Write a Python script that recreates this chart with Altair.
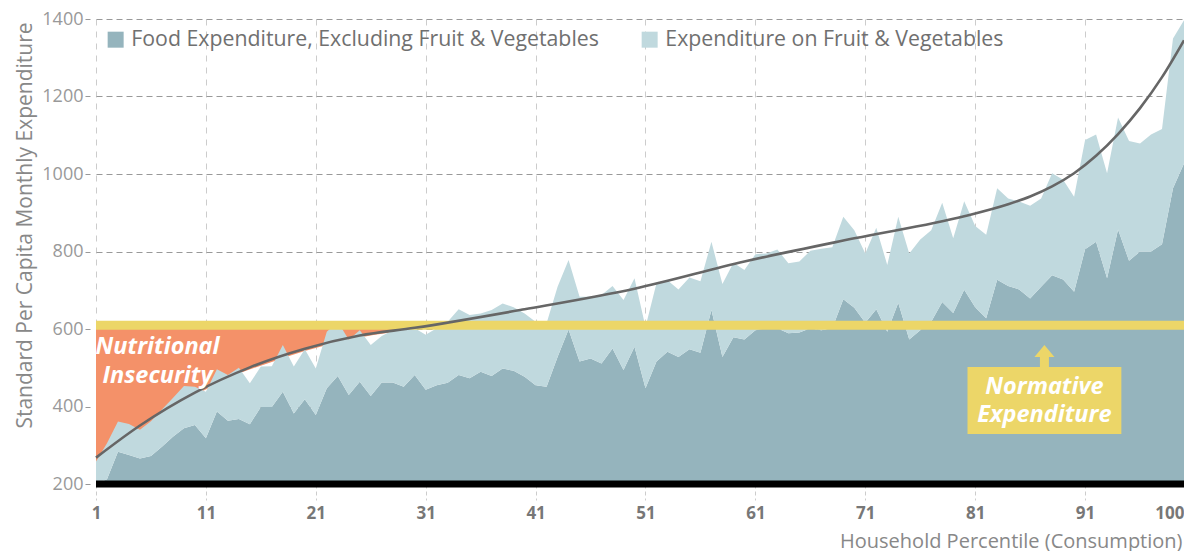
import altair as alt
import pandas as pd

# ---------------- data ----------------
percentile = list(range(1, 101))

food_excl_fv = [
    200, 212, 283, 275, 266, 272, 296, 322, 344, 352,
    318, 387, 363, 368, 354, 399, 399, 438, 382, 419,
    378, 447, 479, 430, 464, 427, 462, 462, 451, 481,
    443, 455, 461, 481, 473, 490, 479, 498, 492, 477,
    455, 451, 528, 599, 516, 524, 511, 550, 494, 554,
    447, 516, 541, 528, 548, 539, 649, 528, 579, 573,
    597, 602, 602, 589, 591, 602, 597, 602, 677, 655,
    616, 651, 593, 668, 573, 597, 619, 670, 641, 701,
    656, 628, 727, 711, 702, 679, 709, 739, 728, 696,
    806, 825, 731, 857, 776, 800, 800, 819, 963, 1027,
]

total_food = [
    258, 305, 361, 355, 340, 362, 392, 422, 453, 451,
    438, 496, 481, 500, 460, 503, 504, 559, 503, 548,
    498, 593, 619, 572, 597, 559, 582, 597, 598, 602,
    585, 602, 619, 651, 636, 640, 649, 666, 656, 640,
    619, 615, 709, 778, 683, 683, 688, 711, 675, 731,
    605, 718, 726, 702, 733, 723, 825, 716, 771, 752,
    793, 795, 805, 770, 774, 802, 807, 811, 890, 855,
    795, 861, 765, 890, 795, 831, 855, 926, 834, 930,
    866, 843, 963, 937, 929, 918, 937, 1002, 985, 941,
    1088, 1102, 1002, 1146, 1085, 1079, 1102, 1116, 1350, 1397,
]

# fitted trend line (read at a few percentiles)
trend_x = [1, 5, 10, 15, 20, 25, 30, 40, 50, 60, 70, 80, 84, 86, 88, 90, 92, 94, 96, 98, 100]
trend_y = [268, 351, 436, 501, 549, 583, 603, 651, 704, 774, 834, 891, 922, 942, 968, 1002, 1047, 1103, 1170, 1250, 1345]

# lower edge of the "nutritional insecurity" zone
insec_x = [1, 3, 5, 8, 11, 14, 17, 20, 25, 30, 32]
insec_y = [252, 300, 338, 400, 444, 485, 515, 543, 578, 600, 610]

NORMATIVE = 610
Y_FLOOR = 200

FOOD_LABEL = "Food Expenditure, Excluding Fruit & Vegetables"
FV_LABEL = "Expenditure on Fruit & Vegetables"
x_ticks = [1, 11, 21, 31, 41, 51, 61, 71, 81, 91, 100]
y_ticks = [200, 400, 600, 800, 1000, 1200, 1400]

# ---------------- styling ----------------
DARK = "#95b4bd"
LIGHT = "#c0d9de"
ORANGE = "#f49169"
YELLOW = "#ecd668"
FONT = "Open Sans"

df = pd.DataFrame({"pct": percentile, "food": food_excl_fv, "total": total_food})
trend = pd.DataFrame({"pct": trend_x, "v": trend_y})
insec = pd.DataFrame({"pct": insec_x, "v": insec_y})
one = pd.DataFrame({"k": [0]})  # single row for annotation marks

xscale = alt.Scale(domain=[1, 100], nice=False, zero=False)
yscale = alt.Scale(domain=[200, 1400], nice=False, zero=False)

xaxis = alt.Axis(
    values=x_ticks, title="Household Percentile (Consumption)", format="d",
    grid=True, gridDash=[6, 6], gridColor="#cccccc",
    domain=False, tickSize=16, tickDash=[4, 3], tickColor="#cccccc",
    labelPadding=5, labelFontSize=17, labelFontWeight="bold", labelColor="#777777",
    labelFlush=False,
    labelAlign=alt.condition("datum.value == 100", alt.value("right"), alt.value("center")),
    titleFontSize=20, titleFontWeight="normal", titleColor="#888888",
    titleX=1086, titleY=57, titleAlign="right", titleBaseline="middle",
)
yaxis = alt.Axis(
    values=y_ticks, title="Standard Per Capita Monthly Expenditure", format="d",
    grid=True, gridDash=[6, 4], gridColor="#999999",
    domain=False, offset=6, tickSize=5, tickColor="#999999",
    labelPadding=2, labelFontSize=18, labelColor="#999999",
    titleFontSize=21, titleFontWeight="normal", titleColor="#888888",
    titleX=-65, titleY=206, titleAngle=270, titleAlign="center", titleBaseline="middle",
)


def X(field="pct"):
    return alt.X(f"{field}:Q", scale=xscale, axis=xaxis)


def Y(field):
    return alt.Y(f"{field}:Q", scale=yscale, axis=yaxis)


color_scale = alt.Scale(domain=[FOOD_LABEL, FV_LABEL], range=[DARK, LIGHT])
legend = alt.Legend(
    title=None, orient="none", legendX=9, legendY=10, direction="horizontal",
    symbolType="square", symbolSize=256, symbolStrokeWidth=0, symbolOpacity=1,
    labelFontSize=21.3, labelColor="#707070", labelFont=FONT, labelLimit=700,
    labelOffset=5, columnPadding=40, padding=0,
)

orange = alt.Chart(insec).mark_area(color=ORANGE, interpolate="monotone").encode(
    x=X(), y=Y("v"), y2=alt.datum(NORMATIVE)
)

dark = alt.Chart(df).transform_calculate(series=f"'{FOOD_LABEL}'").mark_area(
    interpolate="linear", opacity=1
).encode(
    x=X(), y=Y("food"), y2=alt.datum(Y_FLOOR),
    color=alt.Color("series:N", scale=color_scale, legend=legend),
)
light = alt.Chart(df).transform_calculate(series=f"'{FV_LABEL}'").mark_area(
    interpolate="linear", opacity=1
).encode(
    x=X(), y=Y("total"), y2=alt.Y2("food:Q"),
    color=alt.Color("series:N", scale=color_scale, legend=legend),
)

norm_rule = alt.Chart(one).mark_rule(color=YELLOW, strokeWidth=9).encode(
    y=alt.datum(NORMATIVE)
)

trend_line = alt.Chart(trend).mark_line(
    color="#666666", strokeWidth=2.6, interpolate="monotone"
).encode(x=X(), y=Y("v"))

base_rule = alt.Chart(one).mark_rule(color="black", strokeWidth=7).encode(
    y=alt.datum(Y_FLOOR)
)

# annotation: Normative Expenditure box with arrow
box = alt.Chart(one).mark_rect(color=YELLOW).encode(
    x=alt.datum(80.3), x2=alt.datum(94.3), y=alt.datum(329), y2=alt.datum(502)
)
shaft = alt.Chart(one).mark_rule(color=YELLOW, strokeWidth=9).encode(
    x=alt.datum(87.3), y=alt.datum(500), y2=alt.datum(530)
)
head = alt.Chart(one).mark_point(
    shape="M-1,0.6L0,-0.6L1,0.6Z", filled=True, color=YELLOW, opacity=1, size=400, strokeWidth=0
).encode(x=alt.datum(87.3), y=alt.datum(543))

norm_text = alt.Chart(one).mark_text(
    text="Normative\nExpenditure", lineBreak="\n", lineHeight=28,
    font=FONT, fontSize=23.5, fontWeight="bold", fontStyle="italic",
    color="white", align="center", baseline="middle",
).encode(x=alt.datum(87.3), y=alt.datum(450))

insec_text = alt.Chart(one).mark_text(
    text="Nutritional\nInsecurity", lineBreak="\n", lineHeight=29,
    font=FONT, fontSize=23.5, fontWeight="bold", fontStyle="italic",
    color="white", align="center", baseline="middle",
).encode(x=alt.datum(6.6), y=alt.datum(553))

chart = alt.layer(
    orange, dark, light, norm_rule, trend_line, base_rule,
    box, shaft, head, norm_text, insec_text,
).properties(
    width=1088, height=465,
    autosize=alt.AutoSizeParams(type="none"),
    padding={"left": 88, "top": 11, "right": 0, "bottom": 67},
).configure(
    font=FONT,
).configure_view(
    stroke=None,
)

chart.save("out.html", embed_options={"renderer": "svg", "actions": False})
